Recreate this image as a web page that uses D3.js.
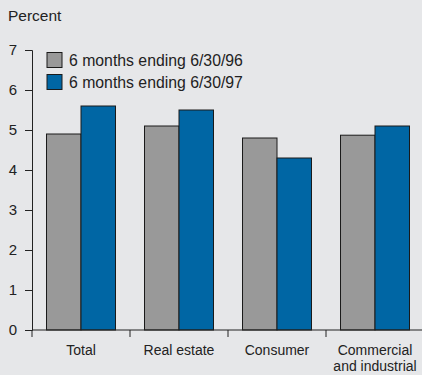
<!DOCTYPE html>
<html>
<head>
<meta charset="utf-8">
<script src="https://cdn.jsdelivr.net/npm/d3@7"></script>
<style>
  html, body { margin: 0; padding: 0; background: #e6e7e9; }
  svg { display: block; font-family: "Liberation Sans", Arial, sans-serif; }
</style>
</head>
<body>
<svg id="chart" width="422" height="375"></svg>
<script>
// Loan categories and the two six-month periods compared
const categories = [["Total"], ["Real estate"], ["Consumer"], ["Commercial", "and industrial"]];
const seriesNames = ["6 months ending 6/30/96", "6 months ending 6/30/97"];
const values96 = [4.9, 5.1, 4.8, 4.87];
const values97 = [5.6, 5.5, 4.3, 5.1];
const yTicks = [0, 1, 2, 3, 4, 5, 6, 7];
const colors = ["#999999", "#0066a4"];

const svg = d3.select("#chart");
const margin = { left: 32, top: 50, bottom: 330, right: 424 };

const x = d3.scaleBand()
  .domain(d3.range(categories.length))
  .range([margin.left, margin.right])
  .paddingInner(0.296)
  .paddingOuter(0.148);
const step = x.step();

const y = d3.scaleLinear().domain([0, 7]).range([margin.bottom, margin.top]);

const x1 = d3.scaleBand().domain([0, 1]).range([0, x.bandwidth()]);

// Unit label
svg.append("text")
  .attr("x", 8).attr("y", 21)
  .attr("font-size", 15.5).attr("fill", "#222")
  .text("Percent");

// Bars
const data = categories.map((c, i) => [values96[i], values97[i]]);
const groups = svg.append("g").selectAll("g")
  .data(data).join("g")
  .attr("transform", (d, i) => `translate(${x(i)},0)`);
groups.selectAll("rect")
  .data(d => d).join("rect")
  .attr("x", (d, j) => x1(j))
  .attr("y", d => y(d))
  .attr("width", x1.bandwidth())
  .attr("height", d => y(0) - y(d))
  .attr("fill", (d, j) => colors[j])
  .attr("stroke", "#1a1a1a")
  .attr("stroke-width", 1);

// Y axis
const yAxis = d3.axisLeft(y).tickValues(yTicks).tickFormat(d3.format("d")).tickSize(7).tickPadding(8);
const gy = svg.append("g").attr("transform", `translate(${margin.left},0)`).call(yAxis);
gy.select(".domain").attr("stroke", "#222");
gy.selectAll(".tick line").attr("stroke", "#222");
gy.selectAll(".tick text").attr("font-size", 15).attr("fill", "#222")
  .attr("font-family", "Liberation Sans, Arial, sans-serif");

// X axis baseline with ticks between categories
const xEdges = d3.range(categories.length).map(i => margin.left + i * step);
svg.append("line")
  .attr("x1", margin.left).attr("x2", 422)
  .attr("y1", y(0)).attr("y2", y(0))
  .attr("stroke", "#222");
svg.append("g").selectAll("line")
  .data(xEdges).join("line")
  .attr("x1", d => d).attr("x2", d => d)
  .attr("y1", y(0)).attr("y2", y(0) + 7)
  .attr("stroke", "#222");

// Category labels
const labels = svg.append("g").selectAll("text")
  .data(categories).join("text")
  .attr("x", (d, i) => x(i) + x.bandwidth() / 2)
  .attr("y", 355)
  .attr("text-anchor", "middle")
  .attr("font-size", 14)
  .attr("fill", "#222");
labels.selectAll("tspan")
  .data(d => d).join("tspan")
  .attr("x", function () { return d3.select(this.parentNode).attr("x"); })
  .attr("dy", (d, k) => k === 0 ? 0 : 16)
  .text(d => d);

// Legend
const legend = svg.append("g").selectAll("g")
  .data(seriesNames).join("g")
  .attr("transform", (d, i) => `translate(47,${52.5 + i * 22})`);
legend.append("rect")
  .attr("width", 15).attr("height", 15)
  .attr("fill", (d, i) => colors[i])
  .attr("stroke", "#1a1a1a");
legend.append("text")
  .attr("x", 22).attr("y", 13.5)
  .attr("font-size", 15.8).attr("fill", "#222")
  .text(d => d);
</script>
</body>
</html>
